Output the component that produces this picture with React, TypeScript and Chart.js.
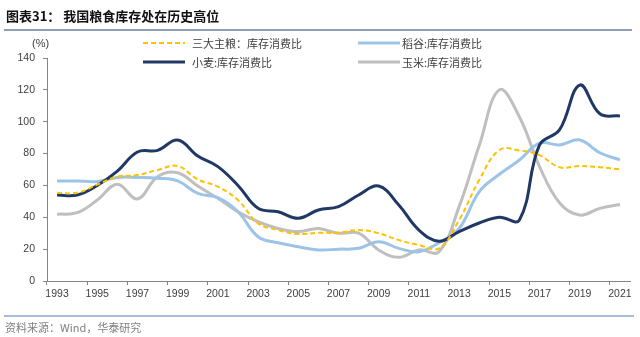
import React, { useEffect, useRef } from "react";
import { Chart, registerables } from "chart.js";

Chart.register(...registerables);

const years = [
  "1993", "1994", "1995", "1996", "1997", "1998", "1999", "2000", "2001", "2002",
  "2003", "2004", "2005", "2006", "2007", "2008", "2009", "2010", "2011", "2012",
  "2013", "2014", "2015", "2016", "2017", "2018", "2019", "2020", "2021",
];

const staples = [
  55.4, 55.4, 60.5, 65.5, 66.5, 69.7, 72.2, 63.8, 59.2, 50.8,
  36.2, 32, 29.5, 30.3, 30.3, 32, 30, 25.7, 22.6, 20.5,
  38.3, 63.4, 82.2, 82, 79, 71.4, 72.2, 71.4, 70.1,
];
const rice = [
  62.8, 62.8, 62.5, 65, 65, 64.5, 62.8, 55, 52.3, 43.5,
  27.8, 24, 21.5, 19.5, 20, 20.5, 24.7, 20.5, 18.4, 24,
  33, 56, 67, 76, 86.6, 85.4, 88.5, 80.5, 76,
];
const wheat = [
  54, 54, 60, 69, 81, 82, 88.5, 78.5, 71.8, 60,
  45.6, 43.5, 39.4, 44.6, 46.7, 54, 59.6, 47.7, 32, 25,
  31, 36.4, 40, 38.3, 85.4, 95, 123, 105, 103.6,
];
const corn = [
  41.9, 42.9, 50.8, 60.7, 51.5, 65.5, 68, 59.6, 51.9, 43.5,
  37.2, 33, 31, 33, 30, 30, 19.5, 14.9, 19.5, 18.4,
  46.7, 85, 120, 103, 71.8, 49, 41.4, 45.6, 48,
];

const seriesNames = ["三大主粮：库存消费比", "稻谷:库存消费比", "小麦:库存消费比", "玉米:库存消费比"];
const seriesColors = ["#FFC000", "#9DC3E6", "#1F3864", "#BFBFBF"];
const yMin = 0;
const yMax = 140;
const yStep = 20;

const titleLead = "图表31：";
const titleText = "我国粮食库存处在历史高位";
const unitText = "(%)";
const sourceText = "资料来源：Wind，华泰研究";

const AXIS = "#868686";
const TEXT = "#404040";
const NUMFONT = "'Liberation Sans', Arial, sans-serif";
const CJK = "'Noto Sans CJK SC', sans-serif";

export default function App() {
  const ref = useRef<HTMLCanvasElement | null>(null);

  useEffect(() => {
    document.body.style.margin = "0";
    const canvas = ref.current;
    if (!canvas) return;
    const chart = new Chart(canvas, {
      type: "line",
      data: {
        labels: years,
        datasets: [
          {
            label: seriesNames[0],
            data: staples,
            borderColor: seriesColors[0],
            borderWidth: 2,
            borderDash: [5, 3],
            pointRadius: 0,
            tension: 0.4,
            fill: false,
          },
          {
            label: seriesNames[2],
            data: wheat,
            borderColor: seriesColors[2],
            borderWidth: 3,
            pointRadius: 0,
            tension: 0.4,
            fill: false,
          },
          {
            label: seriesNames[1],
            data: rice,
            borderColor: seriesColors[1],
            borderWidth: 3,
            pointRadius: 0,
            tension: 0.4,
            fill: false,
          },
          {
            label: seriesNames[3],
            data: corn,
            borderColor: seriesColors[3],
            borderWidth: 3,
            pointRadius: 0,
            tension: 0.4,
            fill: false,
          },
        ],
      },
      options: {
        responsive: false,
        animation: false,
        devicePixelRatio: 1,
        layout: { padding: { top: 58, right: 10, left: 0, bottom: 0 } },
        plugins: {
          legend: { display: false },
          tooltip: { enabled: false },
          title: { display: false },
        },
        scales: {
          x: {
            type: "category",
            offset: true,
            afterFit: (s: any) => {
              s.height = 56;
            },
            border: { display: true, color: AXIS, width: 1 },
            grid: {
              display: true,
              offset: true,
              drawOnChartArea: false,
              drawTicks: true,
              tickLength: 4,
              color: (ctx: any) =>
                typeof ctx.index === "number" && ctx.index % 2 === 0 ? AXIS : "rgba(0,0,0,0)",
            },
            ticks: {
              autoSkip: false,
              maxRotation: 0,
              minRotation: 0,
              padding: 3,
              color: TEXT,
              font: { family: NUMFONT, size: 10.5 },
              callback: (_v: any, i: number) => (i % 2 === 0 ? years[i] : ""),
            },
          },
          y: {
            min: yMin,
            max: yMax,
            afterFit: (s: any) => {
              s.width = 47;
            },
            border: { display: true, color: AXIS, width: 1 },
            grid: {
              display: true,
              drawOnChartArea: false,
              drawTicks: true,
              tickLength: 4,
              color: AXIS,
            },
            ticks: {
              stepSize: yStep,
              padding: 8,
              color: TEXT,
              font: { family: NUMFONT, size: 10.5 },
            },
          },
        },
      },
    });
    return () => chart.destroy();
  }, []);

  const legendPos = [
    { lx: 143, tx: 192, y: 42.5 },
    { lx: 358, tx: 402, y: 42.5 },
    { lx: 143, tx: 192, y: 61.5 },
    { lx: 358, tx: 402, y: 61.5 },
  ];

  return (
    <div
      style={{
        position: "fixed",
        left: 0,
        top: 0,
        width: 640,
        height: 337,
        background: "#fff",
        overflow: "hidden",
      }}
    >
      <canvas
        ref={ref}
        width={640}
        height={337}
        style={{ position: "absolute", left: 0, top: 0, width: 640, height: 337 }}
      />
      <div
        style={{
          position: "absolute",
          left: 6,
          top: 7,
          fontFamily: CJK,
          fontWeight: 700,
          fontSize: 13,
          lineHeight: "18px",
          color: "#111",
          whiteSpace: "nowrap",
        }}
      >
        <span>{titleLead}</span>
        <span style={{ marginLeft: 3 }}>{titleText}</span>
      </div>
      <div
        style={{
          position: "absolute",
          left: 4,
          top: 29,
          width: 628,
          height: 2,
          background: "#8EA0B8",
        }}
      />
      <div
        style={{
          position: "absolute",
          left: 32,
          top: 36,
          fontFamily: NUMFONT,
          fontSize: 11,
          lineHeight: "14px",
          color: TEXT,
        }}
      >
        {unitText}
      </div>
      {seriesNames.map((name, i) => {
        const p = legendPos[i];
        return (
          <React.Fragment key={name}>
            <svg
              width={44}
              height={6}
              style={{ position: "absolute", left: p.lx, top: p.y - 3 }}
            >
              <line
                x1={0}
                y1={3}
                x2={42}
                y2={3}
                stroke={seriesColors[i]}
                strokeWidth={i === 0 ? 2 : 3}
                strokeDasharray={i === 0 ? "5 3" : undefined}
              />
            </svg>
            <div
              style={{
                position: "absolute",
                left: p.tx,
                top: p.y - 8,
                fontFamily: CJK,
                fontSize: 11,
                lineHeight: "16px",
                color: TEXT,
                whiteSpace: "nowrap",
              }}
            >
              {name}
            </div>
          </React.Fragment>
        );
      })}
      <div
        style={{
          position: "absolute",
          left: 4,
          top: 315,
          width: 630,
          height: 1.5,
          background: "#A9BCD8",
        }}
      />
      <div
        style={{
          position: "absolute",
          left: 5,
          top: 320,
          fontFamily: CJK,
          fontSize: 11,
          lineHeight: "15px",
          color: "#808080",
          whiteSpace: "nowrap",
        }}
      >
        {sourceText}
      </div>
    </div>
  );
}
